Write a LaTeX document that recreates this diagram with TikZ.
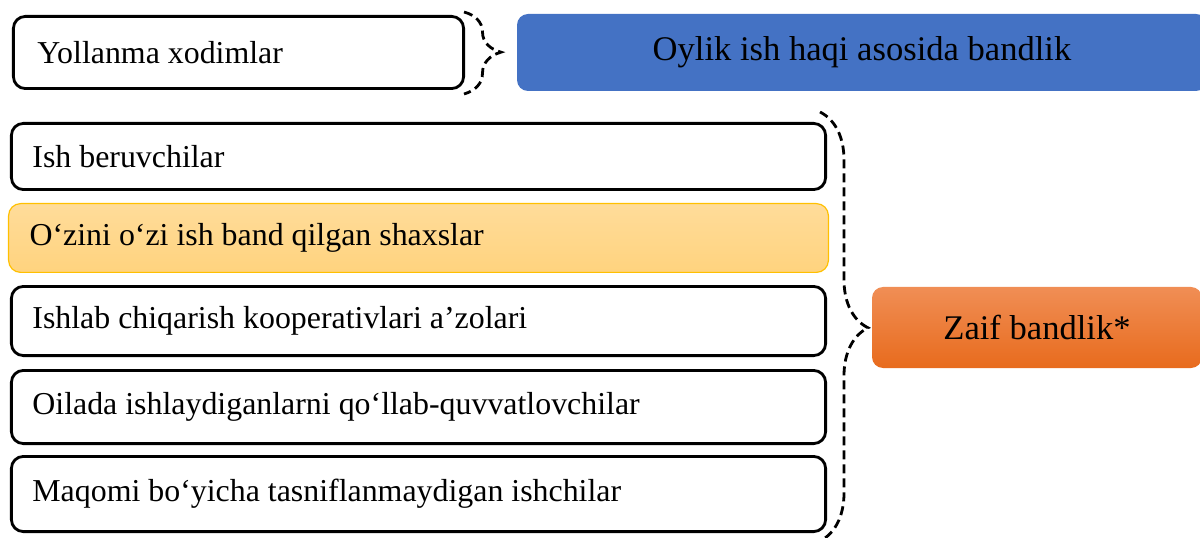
\documentclass[tikz,border=0pt]{standalone}
\usepackage{fontspec}
\setmainfont{Liberation Serif}
\usetikzlibrary{positioning,decorations.pathreplacing}
\definecolor{tagblue}{HTML}{4472C4}
\definecolor{orangetop}{HTML}{F08E55}
\definecolor{orangebot}{HTML}{E86B1D}
\definecolor{ylwtop}{HTML}{FFDC9A}
\definecolor{ylwbot}{HTML}{FFD37E}
\definecolor{ylwline}{HTML}{FFC000}

\begin{document}
\begin{tikzpicture}[x=1bp, y=-1bp, node distance=12bp,
  item/.style={draw, line width=2.8bp, rounded corners=12bp, minimum width=814.2bp, text width=772.2bp, align=flush left, inner xsep=21bp, inner ysep=0bp, font=\fontsize{32}{38}\selectfont},
  hlitem/.style={item, draw=ylwline, line width=1.2bp, top color=ylwtop, bottom color=ylwbot, minimum width=819.8bp, text width=777.8bp},
  tag/.style={rounded corners=11bp, align=flush center, inner sep=0bp, font=\fontsize{34.7}{40}\selectfont},
  brc/.style={decorate, line width=2.8bp, dash pattern=on 9bp off 5bp}]
\useasboundingbox (0,0) rectangle (1200,538);
\clip (0,0) rectangle (1200,538);
\node [item, minimum width=450.2bp, text width=402.2bp, inner xsep=24bp, minimum height=72.2bp] (yol) at (238.5,52.5) {Yollanma xodimlar};
\node [tag, fill=tagblue, minimum width=690bp, minimum height=77bp] (pay) at (862,52.5) {Oylik ish haqi asosida bandlik};
\node [item, minimum height=66.2bp] (empl) at (418.5,156.5) {Ish beruvchilar};
\node [hlitem, minimum height=68.8bp] (self) [below = of empl] {O‘zini o‘zi ish band qilgan shaxslar};
\node [item, minimum height=69.2bp] (coop) [below = of self] {Ishlab chiqarish kooperativlari a’zolari};
\node [item, minimum height=73.2bp] (fam) [below = of coop] {Oilada ishlaydiganlarni qo‘llab-quvvatlovchilar};
\node [item, minimum height=75.2bp] (misc) [below = 10bp of fam] {Maqomi bo‘yicha tasniflanmaydigan ishchilar};
\node [tag, top color=orangetop, bottom color=orangebot, minimum width=330bp, minimum height=81bp] (weak) at (1037,327.5) {Zaif bandlik*};
\draw [brc, decoration={brace, amplitude=37bp, aspect=0.49}] (464,12) -- (464,94);
\draw [brc, decoration={brace, amplitude=48bp, aspect=0.503}] (820,112) -- (820,541);
\end{tikzpicture}
\end{document}
